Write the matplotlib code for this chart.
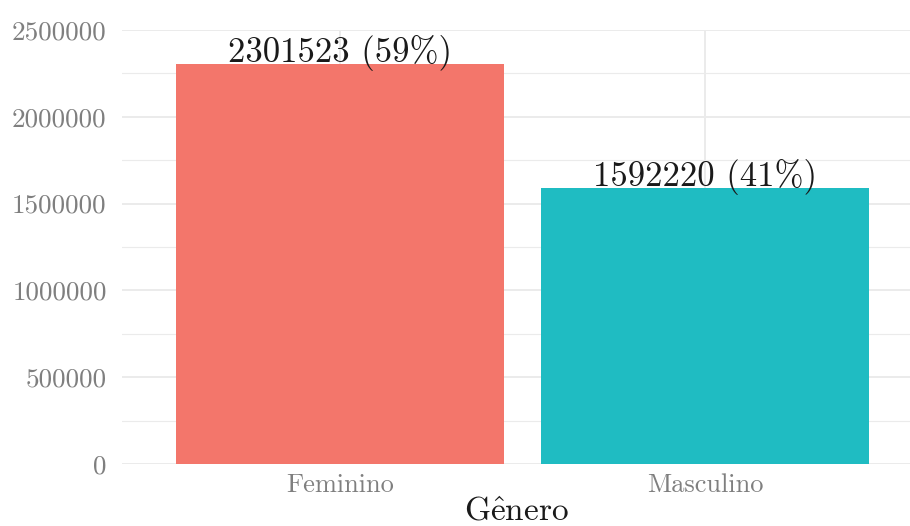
import matplotlib.pyplot as plt
from matplotlib.ticker import MultipleLocator

plt.rcParams['font.family'] = ['cmr10', 'DejaVu Serif']
plt.rcParams['mathtext.fontset'] = 'cm'
plt.rcParams['axes.formatter.use_mathtext'] = True

# data
generos = ['Feminino', 'Masculino']
contagens = [2301523, 1592220]
percentuais = [59, 41]
cores = ['#F3766B', '#1FBCC2']

fig = plt.figure(figsize=(9.1, 5.26), dpi=100)
ax = fig.add_axes([122 / 910, 62 / 526, 1 - 122 / 910, (464 - 30) / 526])

pos = [1, 2]
ax.bar(pos, contagens, width=0.9, color=cores, zorder=2)
for x, v, p in zip(pos, contagens, percentuais):
    ax.annotate(f'{v} ({p}%)', (x, v), xytext=(0, 1.5), textcoords='offset points',
                ha='center', va='baseline', fontsize=25, color='#1a1a1a', zorder=3)

ax.set_xlim(0.403, 2.562)
ax.set_ylim(0, 2500000)
ax.set_xticks(pos)
ax.set_xticklabels(generos)
ax.yaxis.set_minor_locator(MultipleLocator(250000))
ax.set_yticks([0, 500000, 1000000, 1500000, 2000000, 2500000])
ax.set_yticklabels(['0', '500000', '1000000', '1500000', '2000000', '2500000'])

ax.grid(which='major', color='#EBEBEB', linewidth=1.4, zorder=0)
ax.grid(which='minor', axis='y', color='#EBEBEB', linewidth=0.8, zorder=0)
ax.tick_params(which='both', length=0)
ax.tick_params(axis='y', labelsize=19.5, labelcolor='#7f7f7f', pad=11)
ax.tick_params(axis='x', labelsize=19, labelcolor='#7f7f7f', pad=7)
for s in ax.spines.values():
    s.set_visible(False)

ax.set_xlabel(r'$\mathrm{G\hat{e}nero}$', fontsize=24, color='#1a1a1a', labelpad=0)

fig.savefig('out.png', dpi=100)
